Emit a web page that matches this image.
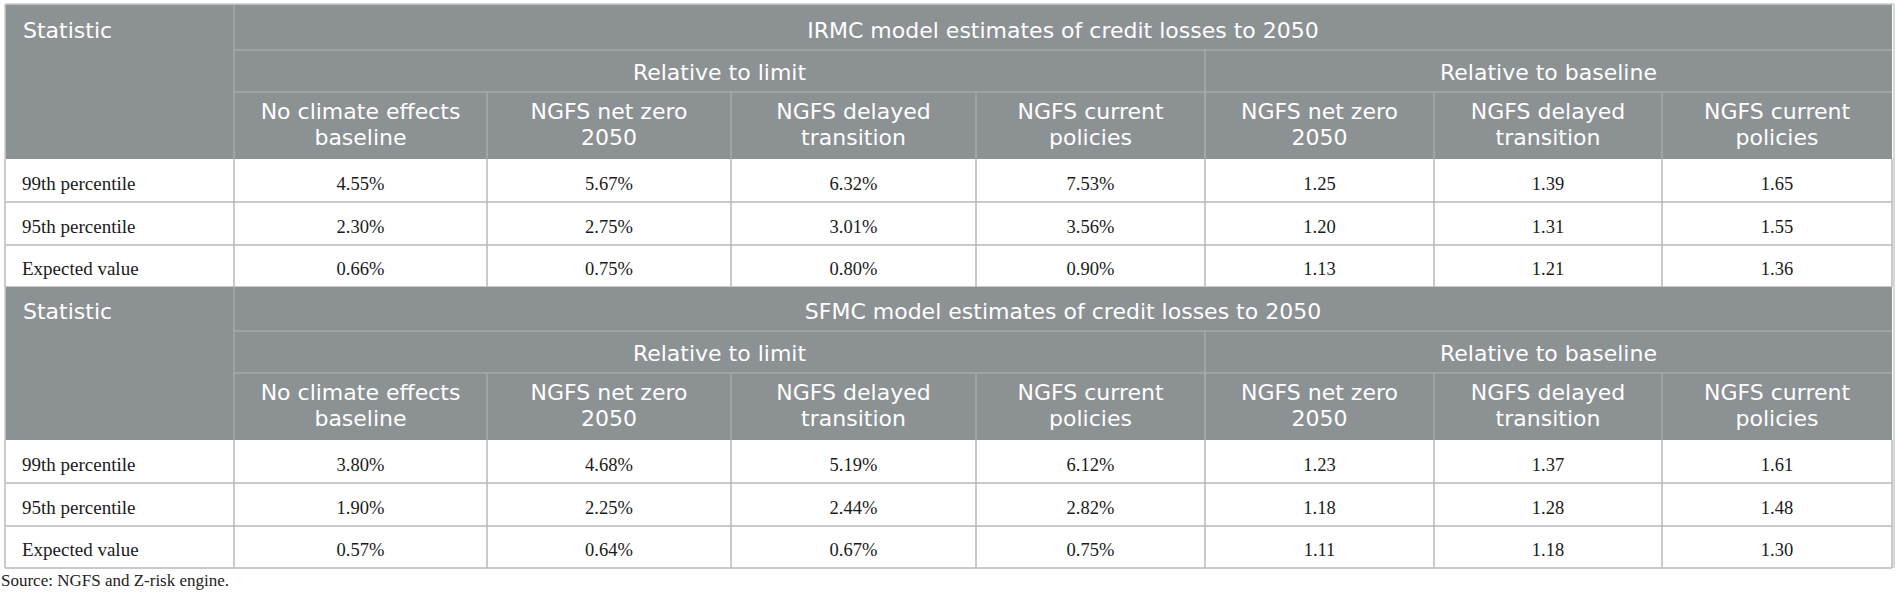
<!DOCTYPE html>
<html>
<head>
<meta charset="utf-8">
<script src="https://cdn.jsdelivr.net/npm/d3@7"></script>
<style>
  html, body { margin: 0; padding: 0; background: #fff; }
  svg { display: block; }
  .hdr { font-family: "DejaVu Sans", Lato, sans-serif; fill: #fff; font-size: 22px; }
  .cell { font-family: "Liberation Serif", serif; fill: #1a1a1a; font-size: 18.5px; }
  .lbl { font-family: "Liberation Serif", serif; fill: #1a1a1a; font-size: 19px; }
  .src { font-family: "Liberation Serif", serif; fill: #222; font-size: 17px; }
</style>
</head>
<body>
<div id="chart"></div>
<script>
  const models = ["IRMC", "SFMC"];
  const groups = ["Relative to limit", "Relative to baseline"];
  const scenarios = [
    ["No climate effects", "baseline"],
    ["NGFS net zero", "2050"],
    ["NGFS delayed", "transition"],
    ["NGFS current", "policies"],
  ];
  const statistics = ["99th percentile", "95th percentile", "Expected value"];

  const irmcLimit = [
    [4.55, 5.67, 6.32, 7.53],
    [2.30, 2.75, 3.01, 3.56],
    [0.66, 0.75, 0.80, 0.90],
  ];
  const irmcBaseline = [
    [1.25, 1.39, 1.65],
    [1.20, 1.31, 1.55],
    [1.13, 1.21, 1.36],
  ];
  const sfmcLimit = [
    [3.80, 4.68, 5.19, 6.12],
    [1.90, 2.25, 2.44, 2.82],
    [0.57, 0.64, 0.67, 0.75],
  ];
  const sfmcBaseline = [
    [1.23, 1.37, 1.61],
    [1.18, 1.28, 1.48],
    [1.11, 1.18, 1.30],
  ];
  const source = "Source: NGFS and Z-risk engine.";

  const width = 1901;
  const height = 602;
  const HEADER_BG = "#8c9193";
  const HEADER_LINE = "#a6aaac";
  const GRID = "#b9b9b9";
  const OUTER = "#c9cdce";

  // layout: column edges and row heights
  const colEdges = [5, 234, 487, 731, 976, 1205, 1434, 1662, 1892];
  const headRows = [[46, 42, 67], [44, 42, 67]];
  const dataRow = [43, 43, 42];
  const blockTop = [4, 287];

  const fmtPct = (v) => d3.format(".2f")(v) + "%";
  const fmtRatio = d3.format(".2f");

  const tables = [
    { model: models[0], limit: irmcLimit, baseline: irmcBaseline },
    { model: models[1], limit: sfmcLimit, baseline: sfmcBaseline },
  ];

  const svg = d3
    .select("#chart")
    .append("svg")
    .attr("width", width)
    .attr("height", height)
    .attr("viewBox", `0 0 ${width} ${height}`);

  const left = colEdges[0];
  const right = colEdges[colEdges.length - 1];
  const statRight = colEdges[1];
  const splitX = colEdges[5];
  let tableBottom = 0;

  tables.forEach((t, bi) => {
    const hr = headRows[bi];
    const y0 = blockTop[bi];
    const y1 = y0 + hr[0];
    const y2 = y1 + hr[1];
    const y3 = y2 + hr[2];
    const g = svg.append("g").attr("class", `block-${t.model.toLowerCase()}`);

    // header background
    g.append("rect")
      .attr("x", left)
      .attr("y", y0)
      .attr("width", right - left)
      .attr("height", y3 - y0)
      .attr("fill", HEADER_BG);

    const hline = (x1, x2, y, c, w) =>
      g.append("line").attr("x1", x1).attr("x2", x2).attr("y1", y).attr("y2", y)
        .attr("stroke", c).attr("stroke-width", w);
    const vline = (x, ya, yb, c, w) =>
      g.append("line").attr("x1", x).attr("x2", x).attr("y1", ya).attr("y2", yb)
        .attr("stroke", c).attr("stroke-width", w);

    hline(statRight, right, y1, HEADER_LINE, 1.5);
    hline(statRight, right, y2, HEADER_LINE, 1.5);
    vline(statRight, y0, y3, HEADER_LINE, 1.5);
    vline(splitX, y1, y3, HEADER_LINE, 1.5);
    colEdges.slice(2, -1).forEach((x) => vline(x, y2, y3, HEADER_LINE, 1.5));

    g.append("text")
      .attr("class", "hdr")
      .attr("x", left + 18)
      .attr("y", y1 - 12)
      .text("Statistic");

    g.append("text")
      .attr("class", "hdr")
      .attr("x", (statRight + right) / 2)
      .attr("y", y1 - 12)
      .attr("text-anchor", "middle")
      .text(`${t.model} model estimates of credit losses to 2050`);

    g.selectAll("text.grp")
      .data(groups)
      .join("text")
      .attr("class", "hdr grp")
      .attr("x", (d, i) => (i === 0 ? (statRight + splitX) / 2 : (splitX + right) / 2))
      .attr("y", y2 - 12)
      .attr("text-anchor", "middle")
      .text((d) => d);

    const colHeads = scenarios.concat(scenarios.slice(1));
    const heads = g
      .selectAll("text.col")
      .data(colHeads)
      .join("text")
      .attr("class", "hdr col")
      .attr("text-anchor", "middle")
      .attr("x", (d, i) => (colEdges[i + 1] + colEdges[i + 2]) / 2)
      .attr("y", y2 + 27);
    heads
      .selectAll("tspan")
      .data((d) => d)
      .join("tspan")
      .attr("x", function () {
        return this.parentNode.getAttribute("x");
      })
      .attr("dy", (d, i) => (i === 0 ? 0 : 26))
      .text((d) => d);

    // data rows
    const rowsY = [y3].concat(Array.from(d3.cumsum(dataRow), (h) => y3 + h));
    const bottom = rowsY[rowsY.length - 1];
    tableBottom = bottom;

    g.append("rect")
      .attr("x", left)
      .attr("y", y3)
      .attr("width", right - left)
      .attr("height", bottom - y3)
      .attr("fill", "#fff");

    rowsY.slice(1).forEach((y) => hline(left, right, y, GRID, 1.5));
    colEdges.forEach((x) => vline(x, y3, bottom, GRID, 1.5));

    const rows = statistics.map((s, r) => ({
      stat: s,
      top: rowsY[r],
      h: dataRow[r],
      values: t.limit[r].map(fmtPct).concat(t.baseline[r].map(fmtRatio)),
    }));

    const rg = g.selectAll("g.row").data(rows).join("g").attr("class", "row");
    rg.append("text")
      .attr("class", "lbl")
      .attr("x", left + 17)
      .attr("y", (d) => d.top + d.h / 2 + 9)
      .text((d) => d.stat);
    rg.selectAll("text.cell")
      .data((d) => d.values.map((v) => ({ v, y: d.top + d.h / 2 + 9 })))
      .join("text")
      .attr("class", "cell")
      .attr("text-anchor", "middle")
      .attr("x", (d, i) => (colEdges[i + 1] + colEdges[i + 2]) / 2)
      .attr("y", (d) => d.y)
      .text((d) => d.v);
  });

  // outer light border
  const border = svg.append("g").attr("stroke", OUTER).attr("stroke-width", 1.5);
  border.append("line").attr("x1", left).attr("x2", left).attr("y1", blockTop[0]).attr("y2", tableBottom);
  border.append("line").attr("x1", left).attr("x2", right + 2).attr("y1", blockTop[0]).attr("y2", blockTop[0]);
  border.append("line").attr("x1", right + 2).attr("x2", right + 2).attr("y1", blockTop[0]).attr("y2", tableBottom);

  svg.append("text")
    .attr("class", "src")
    .attr("x", 1)
    .attr("y", 586)
    .text(source);
</script>
</body>
</html>
